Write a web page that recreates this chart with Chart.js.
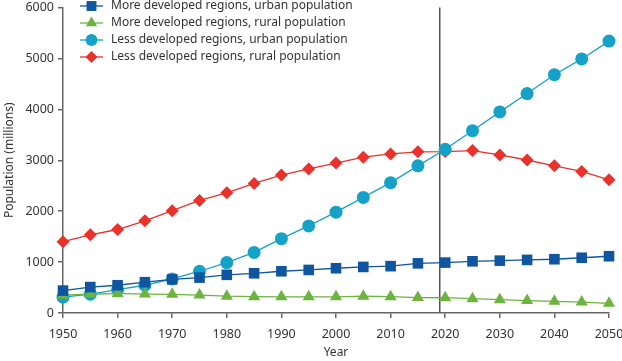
<!DOCTYPE html>
<html>
<head>
<meta charset="utf-8">
<script src="https://cdn.jsdelivr.net/npm/chart.js@4.4.1/dist/chart.umd.min.js"></script>
<style>
  body { margin: 0; background: #fff; }
</style>
</head>
<body>
<canvas id="pop" width="622" height="361"></canvas>
<script>
var years = [1950, 1955, 1960, 1965, 1970, 1975, 1980, 1985, 1990, 1995, 2000,
             2005, 2010, 2015, 2020, 2025, 2030, 2035, 2040, 2045, 2050];
var moreUrban = [440, 510, 545, 605, 660, 695, 750, 780, 820, 846, 879,
                 905, 920, 975, 990, 1015, 1028, 1043, 1056, 1085, 1115];
var moreRural = [350, 368, 385, 372, 366, 352, 330, 320, 318, 318, 318,
                 330, 320, 302, 300, 282, 262, 245, 230, 215, 190];
var lessUrban = [310, 370, 460, 545, 670, 820, 990, 1190, 1460, 1710, 1980,
                 2270, 2560, 2890, 3215, 3580, 3950, 4310, 4680, 4990, 5340];
var lessRural = [1400, 1535, 1640, 1810, 2010, 2210, 2360, 2545, 2710, 2830, 2945,
                 3060, 3125, 3165, 3170, 3190, 3105, 3005, 2890, 2780, 2615];
var seriesNames = ["More developed regions, urban population",
                   "More developed regions, rural population",
                   "Less developed regions, urban population",
                   "Less developed regions, rural population"];
var yTicks = [0, 1000, 2000, 3000, 4000, 5000, 6000];
var markYear = 2019;

var colors = ["#0f55a0", "#6cb33f", "#16a2c8", "#e8322b"];
var shapes = ["rect", "triangle", "circle", "rectRot"];
var sizes = [7.5, 7, 6.5, 6.5];
var allValues = [moreUrban, moreRural, lessUrban, lessRural];
var fontFam = "'Noto Sans', sans-serif";
var inkCol = "#333";
var axisCol = "#666";

function toPoints(vals) {
  return years.map((y, i) => ({ x: y, y: vals[i] }));
}

let datasets = [];
allValues.forEach((vals, i) => {
  datasets.push({
    label: seriesNames[i],
    data: toPoints(vals),
    borderColor: colors[i],
    backgroundColor: colors[i],
    borderWidth: 1.3,
    pointStyle: shapes[i],
    pointRadius: sizes[i],
    pointHoverRadius: sizes[i],
    pointBorderWidth: 0,
    clip: false,
  });
});

function marker(ctx, shape, x, y, r) {
  ctx.beginPath();
  if (shape == "rect") {
    var s = r * Math.SQRT1_2;
    ctx.rect(x - s, y - s, 2 * s, 2 * s);
  } else if (shape == "circle") {
    ctx.arc(x, y, r, 0, Math.PI * 2);
  } else if (shape == "rectRot") {
    ctx.moveTo(x, y - r); ctx.lineTo(x + r, y); ctx.lineTo(x, y + r); ctx.lineTo(x - r, y);
    ctx.closePath();
  } else {
    ctx.moveTo(x, y - r);
    ctx.lineTo(x + r * 0.866, y + r * 0.5);
    ctx.lineTo(x - r * 0.866, y + r * 0.5);
    ctx.closePath();
  }
  ctx.fill();
}

const extras = {
  id: "extras",
  beforeDatasetsDraw(chart) {
    // vertical line at the present year
    const ctx = chart.ctx, a = chart.chartArea;
    const px = chart.scales.x.getPixelForValue(markYear);
    ctx.save();
    ctx.strokeStyle = "#555";
    ctx.lineWidth = 1.5;
    ctx.beginPath();
    ctx.moveTo(px, a.top);
    ctx.lineTo(px, a.bottom);
    ctx.stroke();
    ctx.restore();
  },
  afterDraw(chart) {
    // legend with line + marker
    const ctx = chart.ctx;
    ctx.save();
    ctx.font = "12px " + fontFam;
    ctx.textBaseline = "middle";
    seriesNames.forEach((name, i) => {
      var y = 6 + i * 17;
      ctx.strokeStyle = colors[i];
      ctx.fillStyle = colors[i];
      ctx.lineWidth = 1.3;
      ctx.beginPath();
      ctx.moveTo(80, y);
      ctx.lineTo(103, y);
      ctx.stroke();
      marker(ctx, shapes[i], 91.5, y, sizes[i] - 0.5);
      ctx.fillStyle = inkCol;
      ctx.fillText(name, 111, y);
    });
    ctx.restore();
  },
};

const config = {
  type: "line",
  data: { datasets: datasets },
  plugins: [extras],
  options: {
    responsive: false,
    animation: false,
    layout: { padding: { top: 7, right: 13, left: 0, bottom: 0 } },
    plugins: {
      legend: { display: false },
      tooltip: { enabled: false },
    },
    scales: {
      x: {
        type: "linear",
        min: 1950,
        max: 2050,
        afterFit: (s) => { s.height = 48; s.paddingRight = 0; s.paddingLeft = 0; },
        ticks: { stepSize: 10, color: inkCol, font: { size: 12.5, family: fontFam }, padding: 9, maxRotation: 0,
                 callback: (v) => String(v) },
        grid: { display: true, drawOnChartArea: false, drawTicks: true, tickLength: 5, color: axisCol, lineWidth: 1.5 },
        border: { display: true, color: axisCol, width: 1.5 },
        title: { display: true, text: "Year", color: inkCol, font: { size: 12, family: fontFam }, padding: { top: 4, bottom: 1 } },
      },
      y: {
        min: 0,
        max: 6000,
        afterFit: (s) => { s.width = 63; s.paddingTop = 0; s.paddingBottom = 0; },
        afterBuildTicks: (s) => { s.ticks = yTicks.map((v) => ({ value: v })); },
        ticks: { color: inkCol, font: { size: 12.5, family: fontFam }, padding: 4,
                 callback: (v) => String(v) },
        grid: { display: true, drawOnChartArea: false, drawTicks: true, tickLength: 5, color: axisCol, lineWidth: 1.5 },
        border: { display: true, color: axisCol, width: 1.5 },
        title: { display: true, text: "Population (millions)", color: inkCol, font: { size: 12, family: fontFam }, padding: { top: 2 } },
      },
    },
  },
};

window.addEventListener("load", function (event) {
  const ctx = document.getElementById("pop");
  const myChart = new Chart(ctx, config);
});
</script>
</body>
</html>
